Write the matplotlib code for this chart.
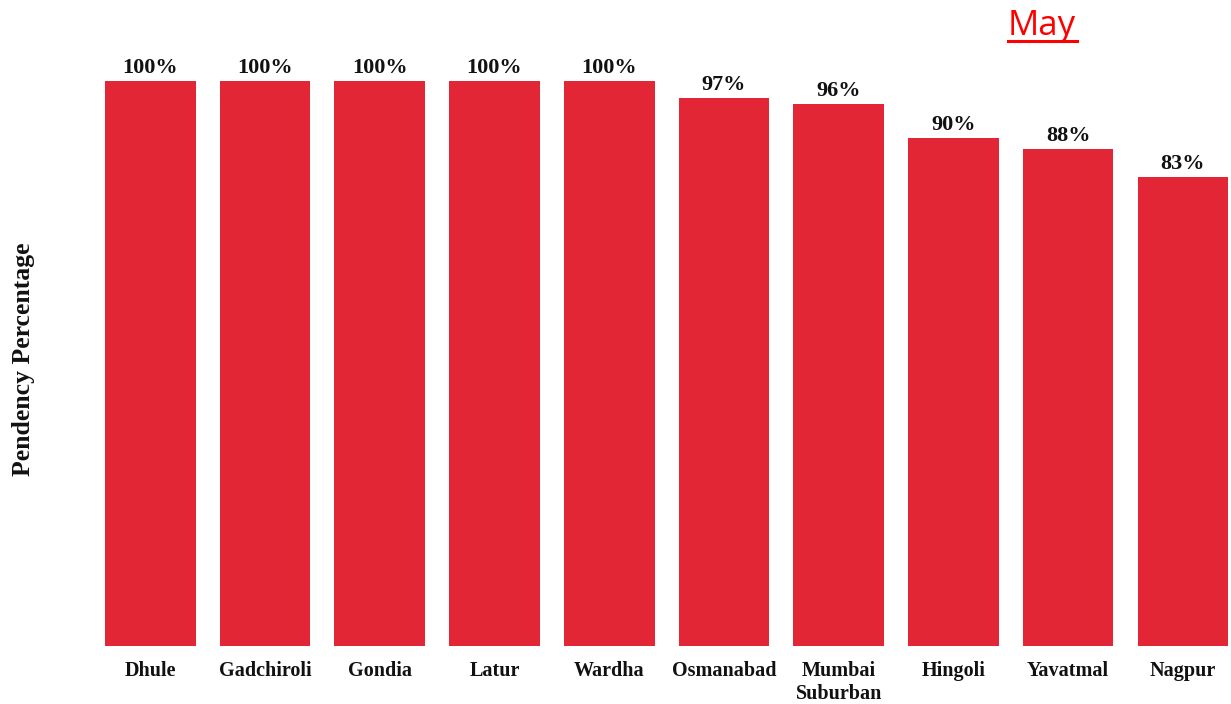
import matplotlib.pyplot as plt
from matplotlib.lines import Line2D

# data
districts = ['Dhule', 'Gadchiroli', 'Gondia', 'Latur', 'Wardha',
             'Osmanabad', 'Mumbai\nSuburban', 'Hingoli', 'Yavatmal', 'Nagpur']
pendency = [100, 100, 100, 100, 100, 97, 96, 90, 88, 83]
month = 'May'

bar_color = '#E32636'
serif = ['Liberation Serif', 'DejaVu Serif']

fig = plt.figure(figsize=(12.31, 7.04), dpi=100)
ax = fig.add_axes([93 / 1231, 58 / 704, 1 - 93 / 1231, 621.5 / 704])

x = range(len(districts))
bars = ax.bar(x, pendency, width=0.79, color=bar_color)
ax.set_xlim(-0.5, 9.42)
ax.set_ylim(0, 110)

# value labels on top of each bar
for b, v in zip(bars, pendency):
    ax.annotate(f'{v}%', (b.get_x() + b.get_width() / 2, v),
                xytext=(0, 2), textcoords='offset points',
                ha='center', va='bottom', fontsize=16,
                fontweight='bold', family=serif, color='#111111')

ax.set_xticks(list(x))
ax.set_xticklabels(districts, fontsize=14.5, fontweight='bold',
                   family=serif, color='#111111', linespacing=1.15)
ax.tick_params(axis='x', length=0, pad=11)
ax.set_yticks([])
for s in ax.spines.values():
    s.set_visible(False)

fig.text(24 / 1231, 345 / 704, 'Pendency Percentage', rotation=90,
         ha='center', va='center', fontsize=18.5, fontweight='bold',
         family=serif, color='#111111')

# month title, underlined
t = fig.text(1042 / 1231, 1 - 26 / 704, month, ha='center', va='center',
             fontsize=25, color='#FF0000', family=['Open Sans', 'DejaVu Sans'])
fig.add_artist(Line2D([1008 / 1231, 1077 / 1231], [1 - 41 / 704, 1 - 41 / 704],
                      color='#FF0000', lw=2.2))

fig.savefig('out.png', dpi=100)
